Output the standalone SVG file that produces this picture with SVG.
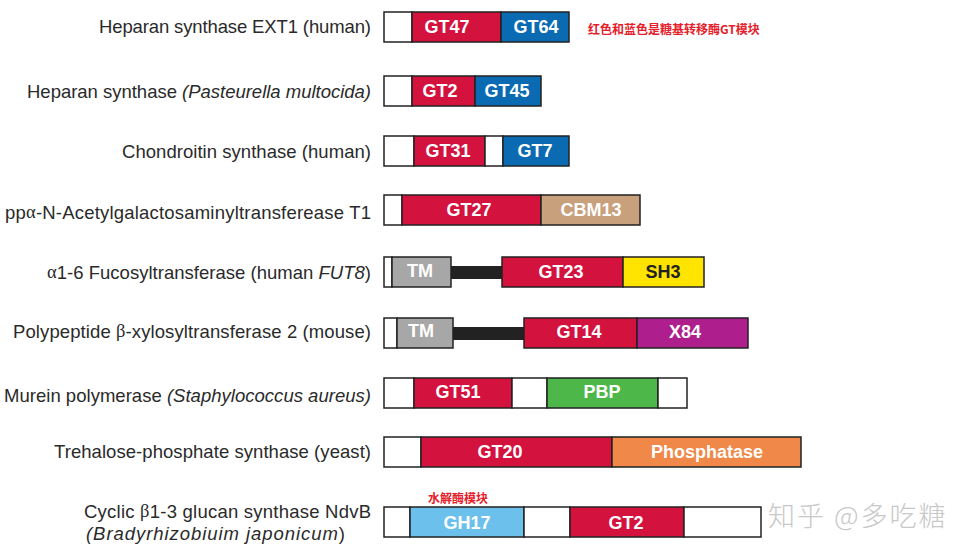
<svg xmlns="http://www.w3.org/2000/svg" width="974" height="555" viewBox="0 0 974 555">
<style>
.lbl{font-family:"Liberation Sans",Arial,sans-serif;font-size:18.5px;fill:#2a2a2a;text-anchor:end;dominant-baseline:central}
.g{font-family:"Liberation Serif","Times New Roman",serif}
.dm{font-family:"Liberation Sans",Arial,sans-serif;font-size:18px;font-weight:bold;fill:#fff;text-anchor:middle;dominant-baseline:central}
.seg{stroke:#222;stroke-width:1.5}
.w{fill:#fff}
.red{fill:#D4123E}
.blue{fill:#0A6BB3}
.tan{fill:#C8A07C}
.gray{fill:#A7A7A7}
.yel{fill:#FFE400}
.pur{fill:#AE1F8D}
.grn{fill:#4DB749}
.org{fill:#F0884A}
.lb{fill:#6CC1EC}
.cn{font-family:"Noto Sans CJK SC",sans-serif;font-size:12px;font-weight:bold;fill:#E5202A;dominant-baseline:central}
</style>
<rect width="974" height="555" fill="#fff"/>

<g id="ext1">
<text class="lbl" x="371" y="26" textLength="272" lengthAdjust="spacing">Heparan synthase EXT1 (human)</text>
<rect class="seg w" x="384" y="12" width="28" height="30"/>
<rect class="seg red" x="412" y="12" width="89" height="30"/>
<rect class="seg blue" x="501" y="12" width="68" height="30"/>
<text class="dm" x="447" y="27">GT47</text>
<text class="dm" x="536" y="27">GT64</text>
<text class="cn" x="588" y="28">红色和蓝色是糖基转移酶GT模块</text>
</g>

<g id="pmhs">
<text class="lbl" x="371" y="91" textLength="344" lengthAdjust="spacing">Heparan synthase <tspan font-style="italic">(Pasteurella multocida)</tspan></text>
<rect class="seg w" x="384" y="76" width="28" height="30"/>
<rect class="seg red" x="412" y="76" width="63" height="30"/>
<rect class="seg blue" x="475" y="76" width="66" height="30"/>
<text class="dm" x="440" y="91">GT2</text>
<text class="dm" x="507" y="91">GT45</text>
</g>

<g id="chsy">
<text class="lbl" x="371" y="151" textLength="249" lengthAdjust="spacing">Chondroitin synthase (human)</text>
<rect class="seg w" x="384" y="136" width="30" height="30"/>
<rect class="seg red" x="414" y="136" width="71" height="30"/>
<rect class="seg w" x="485" y="136" width="18" height="30"/>
<rect class="seg blue" x="503" y="136" width="66" height="30"/>
<text class="dm" x="448" y="151">GT31</text>
<text class="dm" x="535" y="151">GT7</text>
</g>

<g id="galnt1">
<text class="lbl" x="371" y="212" textLength="366" lengthAdjust="spacing">pp<tspan class="g">α</tspan>-N-Acetylgalactosaminyltransferease T1</text>
<rect class="seg w" x="384" y="195" width="18" height="30"/>
<rect class="seg red" x="402" y="195" width="139" height="30"/>
<rect class="seg tan" x="541" y="195" width="99" height="30"/>
<text class="dm" x="469" y="210">GT27</text>
<text class="dm" x="591" y="210">CBM13</text>
</g>

<g id="fut8">
<text class="lbl" x="371" y="272" textLength="324" lengthAdjust="spacing"><tspan class="g">α</tspan>1-6 Fucosyltransferase (human <tspan font-style="italic">FUT8</tspan>)</text>
<rect x="451" y="266" width="51" height="13" fill="#222"/>
<rect class="seg w" x="384" y="257" width="8" height="30"/>
<rect class="seg gray" x="392" y="257" width="59" height="30"/>
<rect class="seg red" x="502" y="257" width="121" height="30"/>
<rect class="seg yel" x="623" y="257" width="81" height="30"/>
<text class="dm" x="420" y="271">TM</text>
<text class="dm" x="561" y="272">GT23</text>
<text class="dm" x="663" y="272" style="fill:#222">SH3</text>
</g>

<g id="xylt2">
<text class="lbl" x="371" y="331" textLength="358" lengthAdjust="spacing">Polypeptide <tspan class="g">β</tspan>-xylosyltransferase 2 (mouse)</text>
<rect x="453" y="327" width="71" height="13" fill="#222"/>
<rect class="seg w" x="384" y="318" width="13" height="30"/>
<rect class="seg gray" x="397" y="318" width="56" height="30"/>
<rect class="seg red" x="524" y="318" width="113" height="30"/>
<rect class="seg pur" x="637" y="318" width="111" height="30"/>
<text class="dm" x="421" y="331">TM</text>
<text class="dm" x="579" y="332">GT14</text>
<text class="dm" x="685" y="332">X84</text>
</g>

<g id="pbp">
<text class="lbl" x="371" y="395" textLength="367" lengthAdjust="spacing">Murein polymerase <tspan font-style="italic">(Staphylococcus aureus)</tspan></text>
<rect class="seg w" x="384" y="378" width="30" height="30"/>
<rect class="seg red" x="414" y="378" width="98" height="30"/>
<rect class="seg w" x="512" y="378" width="35" height="30"/>
<rect class="seg grn" x="547" y="378" width="111" height="30"/>
<rect class="seg w" x="658" y="378" width="29" height="30"/>
<text class="dm" x="458" y="392">GT51</text>
<text class="dm" x="602" y="392">PBP</text>
</g>

<g id="tps">
<text class="lbl" x="371" y="451" textLength="317" lengthAdjust="spacing">Trehalose-phosphate synthase (yeast)</text>
<rect class="seg w" x="384" y="437" width="37" height="30"/>
<rect class="seg red" x="421" y="437" width="191" height="30"/>
<rect class="seg org" x="612" y="437" width="189" height="30"/>
<text class="dm" x="500" y="452">GT20</text>
<text class="dm" x="707" y="452">Phosphatase</text>
</g>

<g id="ndvb">
<text class="lbl" x="371" y="511" textLength="287" lengthAdjust="spacing">Cyclic <tspan class="g">β</tspan>1-3 glucan synthase NdvB</text>
<text class="lbl" x="345" y="533" textLength="259" lengthAdjust="spacing"><tspan font-style="italic">(Bradyrhizobiuim japonicum</tspan>)</text>
<text class="cn" x="428" y="497">水解酶模块</text>
<rect class="seg w" x="384" y="507" width="26" height="30"/>
<rect class="seg lb" x="410" y="507" width="114" height="30"/>
<rect class="seg w" x="524" y="507" width="46" height="30"/>
<rect class="seg red" x="570" y="507" width="114" height="30"/>
<rect class="seg w" x="684" y="507" width="77" height="30"/>
<text class="dm" x="467" y="523">GH17</text>
<text class="dm" x="626" y="523">GT2</text>
</g>

<g id="connectors"></g>

<text x="768" y="526" font-family="'Noto Sans CJK SC',sans-serif" font-size="27" font-weight="300" letter-spacing="2" fill="#c8c8c8">知乎 @多吃糖</text>
</svg>
